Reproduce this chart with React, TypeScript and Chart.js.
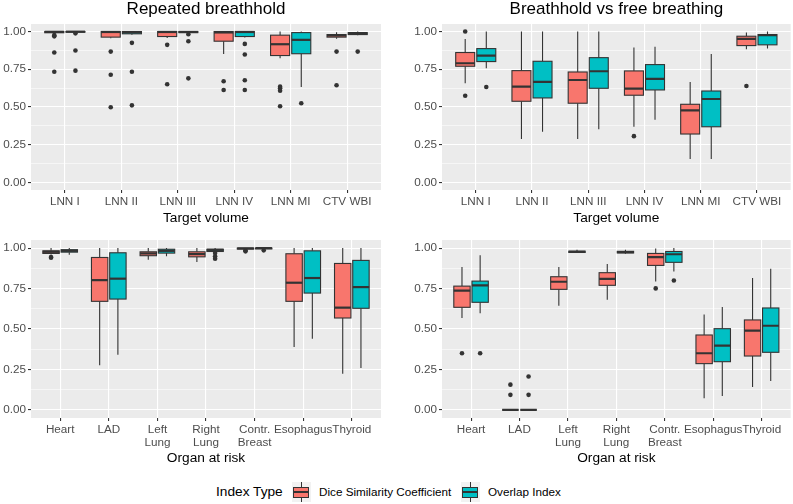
import React, { useEffect, useRef } from 'react';
import { Chart, registerables } from 'chart.js';

Chart.register(...registerables);

const FONT = '"Liberation Sans", Arial, Helvetica, sans-serif';
const DICE_COLOR = '#F8766D';
const OVERLAP_COLOR = '#00BFC4';
const INK = '#333333';

// ---- categories & ticks ----
const targetCategories: (string | string[])[] = ['LNN I', 'LNN II', 'LNN III', 'LNN IV', 'LNN MI', 'CTV WBI'];
const organCategories: (string | string[])[] = ['Heart', 'LAD', ['Left', 'Lung'], ['Right', 'Lung'], ['Contr.', 'Breast'], 'Esophagus', 'Thyroid'];
const yMajorTicks = [0, 0.25, 0.5, 0.75, 1];
const yMinorTicks = [0.125, 0.375, 0.625, 0.875];

// ---- box stats: [lower whisker, Q1, median, Q3, upper whisker] ----
// Repeated breathhold – target volume
const rbTargetDiceStats = [
  [0.99, 0.992, 0.998, 1.0, 1.0],
  [0.956, 0.963, 0.997, 1.0, 1.0],
  [0.958, 0.967, 0.997, 1.0, 1.0],
  [0.852, 0.936, 0.994, 1.0, 1.0],
  [0.823, 0.841, 0.916, 0.976, 1.0],
  [0.952, 0.963, 0.974, 0.98, 0.996],
];
const rbTargetDiceOutliers = [
  [0.976, 0.968, 0.861, 0.734],
  [0.867, 0.714, 0.498],
  [0.912, 0.651],
  [0.671, 0.613],
  [0.635, 0.624, 0.608, 0.505],
  [0.867, 0.644],
];
const rbTargetOverlapStats = [
  [0.993, 0.996, 0.999, 1.0, 1.0],
  [0.978, 0.985, 0.995, 1.0, 1.0],
  [0.99, 0.993, 0.997, 1.0, 1.0],
  [0.96, 0.967, 0.997, 1.0, 1.0],
  [0.633, 0.853, 0.945, 0.993, 1.0],
  [0.975, 0.98, 0.988, 0.993, 1.0],
];
const rbTargetOverlapOutliers = [
  [0.988, 0.874, 0.741],
  [0.925, 0.734, 0.511],
  [0.982, 0.936, 0.69],
  [0.918, 0.848, 0.677, 0.613],
  [0.525],
  [0.867],
];

// Breathhold vs free breathing – target volume
const bfTargetDiceStats = [
  [0.657, 0.77, 0.79, 0.861, 0.95],
  [0.288, 0.538, 0.635, 0.741, 1.0],
  [0.288, 0.525, 0.679, 0.732, 1.0],
  [0.369, 0.578, 0.622, 0.739, 0.894],
  [0.155, 0.321, 0.478, 0.518, 0.666],
  [0.883, 0.907, 0.951, 0.969, 0.994],
];
const bfTargetDiceOutliers = [[1.0, 0.575], [], [], [0.307], [], [0.639]];
const bfTargetOverlapStats = [
  [0.757, 0.801, 0.841, 0.887, 1.0],
  [0.336, 0.56, 0.666, 0.803, 1.0],
  [0.352, 0.624, 0.737, 0.827, 1.0],
  [0.416, 0.613, 0.686, 0.781, 0.9],
  [0.155, 0.369, 0.553, 0.606, 0.852],
  [0.887, 0.912, 0.976, 0.98, 1.0],
];
const bfTargetOverlapOutliers = [[0.633], [], [], [], [], []];

// Repeated breathhold – organ at risk
const rbOrganDiceStats = [
  [0.96, 0.967, 0.977, 0.983, 1.0],
  [0.276, 0.671, 0.802, 0.942, 1.0],
  [0.928, 0.953, 0.967, 0.977, 1.0],
  [0.914, 0.946, 0.963, 0.977, 1.0],
  [0.993, 0.994, 0.998, 1.0, 1.0],
  [0.389, 0.671, 0.786, 0.965, 1.0],
  [0.224, 0.568, 0.632, 0.905, 1.0],
];
const rbOrganDiceOutliers = [[0.945, 0.94], [], [], [], [0.986, 0.98], [], []];
const rbOrganOverlapStats = [
  [0.959, 0.975, 0.983, 0.99, 1.0],
  [0.341, 0.685, 0.811, 0.971, 1.0],
  [0.949, 0.969, 0.983, 0.993, 1.0],
  [0.975, 0.979, 0.989, 0.993, 1.0],
  [0.993, 0.995, 1.0, 1.0, 1.0],
  [0.44, 0.722, 0.815, 0.983, 1.0],
  [0.259, 0.628, 0.759, 0.924, 1.0],
];
const rbOrganOverlapOutliers = [[], [], [], [0.969, 0.949, 0.934], [0.986], [], []];

// Breathhold vs free breathing – organ at risk
const bfOrganDiceStats = [
  [0.568, 0.634, 0.737, 0.765, 0.883],
  [0, 0, 0, 0, 0],
  [0.644, 0.745, 0.792, 0.823, 0.883],
  [0.681, 0.77, 0.81, 0.848, 0.901],
  [0.794, 0.893, 0.944, 0.967, 0.998],
  [0.072, 0.286, 0.35, 0.463, 0.59],
  [0.142, 0.333, 0.49, 0.556, 0.815],
];
const bfOrganDiceOutliers = [[0.35], [0.156, 0.093], [], [], [0.751], [], []];
const bfOrganOverlapStats = [
  [0.597, 0.665, 0.77, 0.796, 0.955],
  [0, 0, 0, 0, 0],
  [0.97, 0.973, 0.977, 0.981, 0.99],
  [0.965, 0.97, 0.975, 0.98, 0.99],
  [0.856, 0.912, 0.962, 0.979, 1.0],
  [0.086, 0.298, 0.397, 0.502, 0.636],
  [0.178, 0.356, 0.52, 0.63, 0.872],
];
const bfOrganOverlapOutliers = [[0.35], [0.206, 0.093], [], [], [0.8], [], []];

const DODGE = 0.1875;
const BOX_WIDTH = 0.3375;

type PanelProps = {
  left: number;
  top: number;
  width: number;
  height: number;
  title?: string;
  categories: (string | string[])[];
  xTitle: string;
  diceStats: number[][];
  diceOutliers: number[][];
  overlapStats: number[][];
  overlapOutliers: number[][];
  padTop: number;
  padRight: number;
  xAxisHeight: number;
  tickPad: number;
  titlePad: number;
};

function toPoints(out: number[][], offset: number) {
  const pts: { x: number; y: number }[] = [];
  out.forEach((vals, i) => vals.forEach((v) => pts.push({ x: i + offset, y: v })));
  return pts;
}

function Panel(p: PanelProps) {
  const ref = useRef<HTMLCanvasElement | null>(null);
  useEffect(() => {
    const canvas = ref.current;
    if (!canvas) return;
    const groups = [
      { stats: p.diceStats, color: DICE_COLOR, offset: -DODGE },
      { stats: p.overlapStats, color: OVERLAP_COLOR, offset: DODGE },
    ];
    const bgPlugin = {
      id: 'panelBg',
      beforeDraw(chart: any) {
        const { ctx, chartArea: a } = chart;
        ctx.save();
        ctx.fillStyle = '#EBEBEB';
        ctx.fillRect(a.left, a.top, a.right - a.left, a.bottom - a.top);
        ctx.restore();
      },
    };
    const boxPlugin = {
      id: 'boxes',
      beforeDatasetsDraw(chart: any) {
        const { ctx, chartArea: a } = chart;
        const x = chart.scales.x;
        const y = chart.scales.y;
        ctx.save();
        ctx.beginPath();
        ctx.rect(a.left, a.top, a.right - a.left, a.bottom - a.top);
        ctx.clip();
        const half = Math.abs(x.getPixelForValue(BOX_WIDTH) - x.getPixelForValue(0)) / 2;
        groups.forEach((g) => {
          g.stats.forEach((s, i) => {
            const [lo, q1, med, q3, hi] = s;
            const cx = x.getPixelForValue(i + g.offset);
            ctx.strokeStyle = INK;
            ctx.lineWidth = 1.1;
            ctx.beginPath();
            ctx.moveTo(cx, y.getPixelForValue(hi));
            ctx.lineTo(cx, y.getPixelForValue(q3));
            ctx.moveTo(cx, y.getPixelForValue(q1));
            ctx.lineTo(cx, y.getPixelForValue(lo));
            ctx.stroke();
            const yTop = y.getPixelForValue(q3);
            const yBot = y.getPixelForValue(q1);
            ctx.fillStyle = g.color;
            ctx.fillRect(cx - half, yTop, half * 2, yBot - yTop);
            ctx.strokeRect(cx - half, yTop, half * 2, yBot - yTop);
            ctx.lineWidth = 2.2;
            ctx.beginPath();
            const ym = y.getPixelForValue(med);
            ctx.moveTo(cx - half, ym);
            ctx.lineTo(cx + half, ym);
            ctx.stroke();
          });
        });
        ctx.restore();
      },
    };
    const titlePlugin = {
      id: 'panelTitle',
      afterDraw(chart: any) {
        if (!p.title) return;
        const { ctx, chartArea: a } = chart;
        ctx.save();
        ctx.font = `17px ${FONT}`;
        ctx.fillStyle = '#000000';
        ctx.textAlign = 'center';
        ctx.textBaseline = 'alphabetic';
        ctx.fillText(p.title, (a.left + a.right) / 2, 14);
        ctx.restore();
      },
    };
    const isMajor = (v: number) => yMajorTicks.some((m) => Math.abs(m - v) < 1e-9);
    const allY = [...yMajorTicks, ...yMinorTicks].sort((a, b) => a - b);
    const n = p.categories.length;
    const chart = new Chart(canvas, {
      type: 'scatter',
      data: {
        datasets: [
          {
            data: toPoints(p.diceOutliers, -DODGE),
            pointRadius: 2.3,
            pointHoverRadius: 2.3,
            backgroundColor: INK,
            borderWidth: 0,
          },
          {
            data: toPoints(p.overlapOutliers, DODGE),
            pointRadius: 2.3,
            pointHoverRadius: 2.3,
            backgroundColor: INK,
            borderWidth: 0,
          },
        ],
      },
      options: {
        responsive: false,
        animation: false,
        events: [],
        layout: { padding: { top: p.padTop, right: p.padRight, left: 0, bottom: 0 } },
        plugins: { legend: { display: false }, tooltip: { enabled: false }, title: { display: false } },
        scales: {
          x: {
            type: 'linear',
            min: -0.6,
            max: n - 1 + 0.6,
            afterBuildTicks: (s: any) => {
              s.ticks = p.categories.map((_, i) => ({ value: i }));
            },
            afterFit: (s: any) => {
              s.height = p.xAxisHeight;
            },
            ticks: {
              autoSkip: false,
              maxRotation: 0,
              minRotation: 0,
              padding: p.tickPad,
              color: '#4D4D4D',
              font: { family: FONT, size: 11.7, lineHeight: 1.1 },
              callback: (_v: any, i: number) => p.categories[i] as any,
            },
            grid: { color: '#FFFFFF', lineWidth: 1.1, tickColor: INK, tickLength: 3, drawTicks: true },
            border: { display: false },
            title: {
              display: true,
              text: p.xTitle,
              color: '#000000',
              font: { family: FONT, size: 13.7, lineHeight: 1.2 },
              padding: { top: 0, bottom: p.titlePad },
            },
          },
          y: {
            type: 'linear',
            min: -0.05,
            max: 1.05,
            afterBuildTicks: (s: any) => {
              s.ticks = allY.map((v) => ({ value: v }));
            },
            afterFit: (s: any) => {
              s.width = 31;
            },
            ticks: {
              autoSkip: false,
              padding: 2,
              color: '#4D4D4D',
              font: { family: FONT, size: 11.7 },
              callback: (v: any) => (isMajor(Number(v)) ? Number(v).toFixed(2) : ''),
            },
            grid: {
              color: '#FFFFFF',
              lineWidth: (c: any) => (c.tick && isMajor(c.tick.value) ? 1.1 : 0.55),
              tickColor: (c: any) => (c.tick && isMajor(c.tick.value) ? INK : 'rgba(0,0,0,0)'),
              tickLength: 3,
              drawTicks: true,
            },
            border: { display: false },
          },
        },
      } as any,
      plugins: [bgPlugin, boxPlugin, titlePlugin],
    });
    return () => chart.destroy();
  }, []);
  return (
    <canvas
      ref={ref}
      width={p.width}
      height={p.height}
      style={{ position: 'absolute', left: p.left, top: p.top, width: p.width, height: p.height }}
    />
  );
}

function LegendKey({ left, color }: { left: number; color: string }) {
  return (
    <div style={{ position: 'absolute', left, top: 482, width: 19, height: 20, background: '#F2F2F2' }}>
      <div style={{ position: 'absolute', left: 9, top: 0, width: 1.1, height: 20, background: INK }} />
      <div
        style={{
          position: 'absolute',
          left: 1.5,
          top: 4.5,
          width: 16,
          height: 11,
          boxSizing: 'border-box',
          background: color,
          border: `1px solid ${INK}`,
        }}
      />
      <div style={{ position: 'absolute', left: 1.5, top: 9, width: 16, height: 2, background: INK }} />
    </div>
  );
}

export default function App() {
  const textStyle = (left: number, size: number): React.CSSProperties => ({
    position: 'absolute',
    left,
    top: 482,
    height: 20,
    lineHeight: '20px',
    fontFamily: FONT,
    fontSize: size,
    color: '#000000',
    whiteSpace: 'nowrap',
  });
  return (
    <div style={{ position: 'fixed', left: 0, top: 0, width: 793, height: 504, background: '#FFFFFF', overflow: 'hidden' }}>
      <Panel
        left={0} top={0} width={396} height={230}
        title="Repeated breathhold"
        categories={targetCategories} xTitle="Target volume"
        diceStats={rbTargetDiceStats} diceOutliers={rbTargetDiceOutliers}
        overlapStats={rbTargetOverlapStats} overlapOutliers={rbTargetOverlapOutliers}
        padTop={24} padRight={15} xAxisHeight={40} tickPad={2.6} titlePad={3.8}
      />
      <Panel
        left={411} top={0} width={382} height={230}
        title="Breathhold vs free breathing"
        categories={targetCategories} xTitle="Target volume"
        diceStats={bfTargetDiceStats} diceOutliers={bfTargetDiceOutliers}
        overlapStats={bfTargetOverlapStats} overlapOutliers={bfTargetOverlapOutliers}
        padTop={24} padRight={1} xAxisHeight={40} tickPad={2.6} titlePad={3.8}
      />
      <Panel
        left={0} top={230} width={396} height={240}
        categories={organCategories} xTitle="Organ at risk"
        diceStats={rbOrganDiceStats} diceOutliers={rbOrganDiceOutliers}
        overlapStats={rbOrganOverlapStats} overlapOutliers={rbOrganOverlapOutliers}
        padTop={10} padRight={15} xAxisHeight={52} tickPad={2.6} titlePad={4}
      />
      <Panel
        left={411} top={230} width={382} height={240}
        categories={organCategories} xTitle="Organ at risk"
        diceStats={bfOrganDiceStats} diceOutliers={bfOrganDiceOutliers}
        overlapStats={bfOrganOverlapStats} overlapOutliers={bfOrganOverlapOutliers}
        padTop={10} padRight={1} xAxisHeight={52} tickPad={2.6} titlePad={4}
      />
      <div style={textStyle(216, 13.7)}>Index Type</div>
      <LegendKey left={291.5} color={DICE_COLOR} />
      <div style={textStyle(319, 11.7)}>Dice Similarity Coefficient</div>
      <LegendKey left={460.5} color={OVERLAP_COLOR} />
      <div style={textStyle(488, 11.7)}>Overlap Index</div>
    </div>
  );
}
